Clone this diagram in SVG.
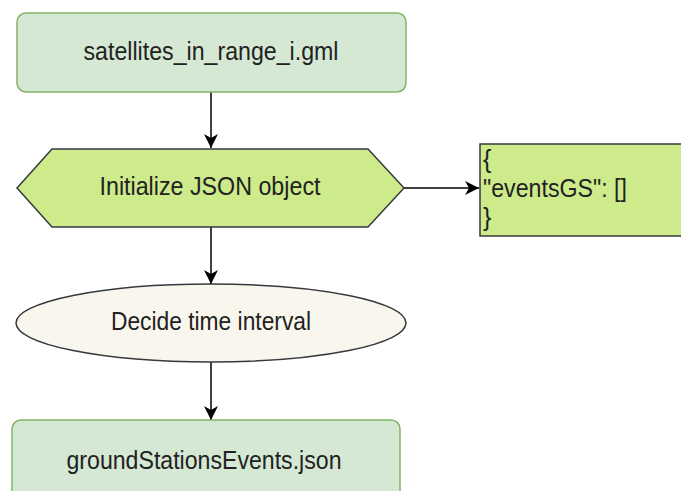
<svg xmlns="http://www.w3.org/2000/svg" width="681" height="491" viewBox="0 0 681 491">
  <style>
    .file { fill: #d5e8d4; stroke: #82b366; stroke-width: 1.5; }
    .step { fill: #cdeb8b; stroke: #36393d; stroke-width: 1.5; }
    .decide { fill: #f9f7ed; stroke: #36393d; stroke-width: 1.5; }
    .label { font-family: "Liberation Sans", Arial, sans-serif; font-size: 25px; fill: #222; }
    .mid { text-anchor: middle; }
    .edge { fill: none; stroke: #000; stroke-width: 1.5; marker-end: url(#arrow); }
  </style>
  <defs>
    <marker id="arrow" markerUnits="userSpaceOnUse" markerWidth="16" markerHeight="16" refX="14" refY="7" orient="auto">
      <path d="M0,0 L14,7 L0,14 L4,7 Z" fill="#000"/>
    </marker>
  </defs>

  <rect width="681" height="491" fill="#fff"/>

  <g id="connectors">
    <path class="edge" d="M211,92 L211,148"/>
    <path class="edge" d="M404,188 L479,188"/>
    <path class="edge" d="M211,227 L211,284"/>
    <path class="edge" d="M211,362 L211,420"/>
  </g>

  <g id="satellites-in-range">
    <rect class="file" x="17" y="13" width="389" height="79" rx="9"/>
    <text class="label mid" x="211" y="60" textLength="255" lengthAdjust="spacingAndGlyphs">satellites_in_range_i.gml</text>
  </g>

  <g id="init-json">
    <polygon class="step" points="17,188 52,149 368,149 404,188 368,227 52,227"/>
    <text class="label mid" x="210" y="195" textLength="221" lengthAdjust="spacingAndGlyphs">Initialize JSON object</text>
  </g>

  <g id="json-object">
    <rect class="step" x="480" y="144" width="220" height="92"/>
    <text class="label" x="483" y="168">{</text>
    <text class="label" x="483" y="197" textLength="144" lengthAdjust="spacingAndGlyphs">"eventsGS": []</text>
    <text class="label" x="483" y="226">}</text>
  </g>

  <g id="decide-interval">
    <ellipse class="decide" cx="211" cy="323" rx="195" ry="39"/>
    <text class="label mid" x="211" y="330" textLength="200" lengthAdjust="spacingAndGlyphs">Decide time interval</text>
  </g>

  <g id="ground-stations-events">
    <rect class="file" x="12" y="420" width="388" height="90" rx="9"/>
    <text class="label mid" x="204" y="469" textLength="275" lengthAdjust="spacingAndGlyphs">groundStationsEvents.json</text>
  </g>
</svg>
